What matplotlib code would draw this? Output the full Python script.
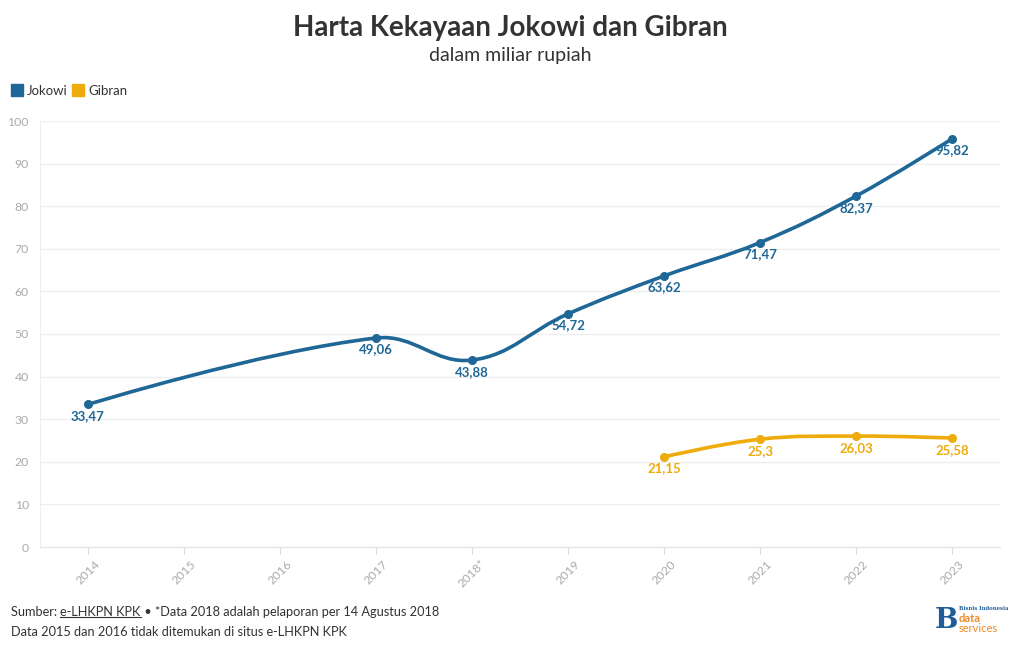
import matplotlib.pyplot as plt
from matplotlib.path import Path
from matplotlib.patches import PathPatch
from matplotlib.lines import Line2D
import numpy as np

plt.rcParams['font.family'] = ['Lato', 'DejaVu Sans']

# data
years = ['2014', '2015', '2016', '2017', '2018*', '2019', '2020', '2021', '2022', '2023']
jokowi_years = ['2014', '2017', '2018*', '2019', '2020', '2021', '2022', '2023']
jokowi_vals = [33.47, 49.06, 43.88, 54.72, 63.62, 71.47, 82.37, 95.82]
gibran_years = ['2020', '2021', '2022', '2023']
gibran_vals = [21.15, 25.3, 26.03, 25.58]

c_jok = '#1f6796'
c_gib = '#eeab0b'


def spline_path(xs, ys, sx=96.0, sy=4.26, smooth=1.0):
    # cardinal spline (roughly like plotly's 'spline' shape), done in pixel-ish units
    P = np.column_stack([np.asarray(xs, float) * sx, np.asarray(ys, float) * sy])
    n = len(P)
    verts = [P[0]]
    codes = [Path.MOVETO]
    tang = []
    for i in range(n):
        if i == 0 or i == n - 1:
            tang.append(None)
            continue
        d1 = np.linalg.norm(P[i] - P[i - 1])
        d2 = np.linalg.norm(P[i + 1] - P[i])
        v = P[i + 1] - P[i - 1]
        tang.append((v / (d1 + d2), d1, d2))
    for i in range(n - 1):
        a, b = P[i], P[i + 1]
        if tang[i] is None:
            c1 = a
        else:
            t, d1, d2 = tang[i]
            c1 = a + t * d2 * 0.4 * smooth
        if tang[i + 1] is None:
            c2 = b
        else:
            t, d1, d2 = tang[i + 1]
            c2 = b - t * d1 * 0.4 * smooth
        verts += [c1, c2, b]
        codes += [Path.CURVE4] * 3
    verts = np.array(verts) / np.array([sx, sy])
    return Path(verts, codes)


fig = plt.figure(figsize=(10.2, 6.5), dpi=100)
ax = fig.add_axes([40 / 1020, 103 / 650, 960 / 1020, 426 / 650])

jx = [years.index(y) for y in jokowi_years]
gx = [years.index(y) for y in gibran_years]

for xs, vals, col in [(jx, jokowi_vals, c_jok), (gx, gibran_vals, c_gib)]:
    ax.add_patch(PathPatch(spline_path(xs, vals), facecolor='none', edgecolor=col,
                           lw=2.6, capstyle='round', zorder=3))
    ax.scatter(xs, vals, s=30, color=col, zorder=4)
    for x, v in zip(xs, vals):
        lab = ('%g' % v).replace('.', ',')
        ax.annotate(lab, (x, v), xytext=(0, -4), textcoords='offset points',
                    ha='center', va='top', color=col, fontsize=9.5, fontweight='bold', zorder=5)

ax.set_xlim(-0.5, 9.5)
ax.set_ylim(0, 100)
ax.set_yticks(range(0, 101, 10))
ax.set_xticks(range(len(years)))
ax.set_xticklabels(years, rotation=45, ha='center', rotation_mode='default')
ax.tick_params(axis='both', colors='#aaaaaa', labelsize=8.8, length=0)
ax.tick_params(axis='x', length=5, color='#dddddd', pad=3)
ax.tick_params(axis='y', pad=8)
ax.grid(axis='y', color='#eeeeee', lw=0.9)
ax.set_axisbelow(True)
for s in ['top', 'right']:
    ax.spines[s].set_visible(False)
ax.spines['left'].set_color('#eeeeee')
ax.spines['bottom'].set_color('#e4e4e4')

# title
fig.text(0.5, 1 - 28 / 650, 'Harta Kekayaan Jokowi dan Gibran', ha='center', va='center',
         fontsize=20, fontweight='bold', color='#333333')
fig.text(0.5, 1 - 55 / 650, 'dalam miliar rupiah', ha='center', va='center',
         fontsize=14, color='#333333')

# legend
handles = [Line2D([], [], ls='', marker='s', ms=9, color=c_jok),
           Line2D([], [], ls='', marker='s', ms=9, color=c_gib)]
fig.legend(handles, ['Jokowi', 'Gibran'], loc='center left', bbox_to_anchor=(5 / 1020, 1 - 91 / 650),
           ncol=2, frameon=False, fontsize=9.5, handletextpad=0.25, columnspacing=0.3,
           handlelength=1.0, borderaxespad=0, labelcolor='#333333')

# footer
fs = 9.2
t1 = fig.text(11 / 1020, 1 - 612 / 650, 'Sumber: ', ha='left', va='center', fontsize=fs, color='#333333')
fig.canvas.draw()
r = fig.canvas.get_renderer()
bb = t1.get_window_extent(r)
t2 = fig.text(bb.x1 / 1020, 1 - 612 / 650, 'e-LHKPN KPK', ha='left', va='center', fontsize=fs, color='#333333')
bb2 = t2.get_window_extent(r)
fig.add_artist(Line2D([bb2.x0 / 1020, bb2.x1 / 1020], [bb2.y0 / 650 + 0.001] * 2, color='#333333', lw=0.8))
fig.text(bb2.x1 / 1020, 1 - 612 / 650, ' \u2022 *Data 2018 adalah pelaporan per 14 Agustus 2018', ha='left',
         va='center', fontsize=fs, color='#333333')
fig.text(11 / 1020, 1 - 632 / 650, 'Data 2015 dan 2016 tidak ditemukan di situs e-LHKPN KPK', ha='left',
         va='center', fontsize=fs, color='#333333')

# logo
fig.text(946 / 1020, 1 - 620 / 650, 'B', ha='center', va='center', fontsize=20, fontweight='bold',
         family='DejaVu Serif', color='#1f5c99')
fig.text(959 / 1020, 1 - 609 / 650, 'Bisnis Indonesia', ha='left', va='center', fontsize=3.8,
         fontweight='bold', family='DejaVu Serif', color='#1f5c99')
fig.text(959 / 1020, 1 - 618 / 650, 'data', ha='left', va='center', fontsize=8, fontweight='bold', color='#f08a24')
fig.text(959 / 1020, 1 - 628 / 650, 'services', ha='left', va='center', fontsize=8, color='#f08a24')

fig.savefig('out.png', dpi=100)
